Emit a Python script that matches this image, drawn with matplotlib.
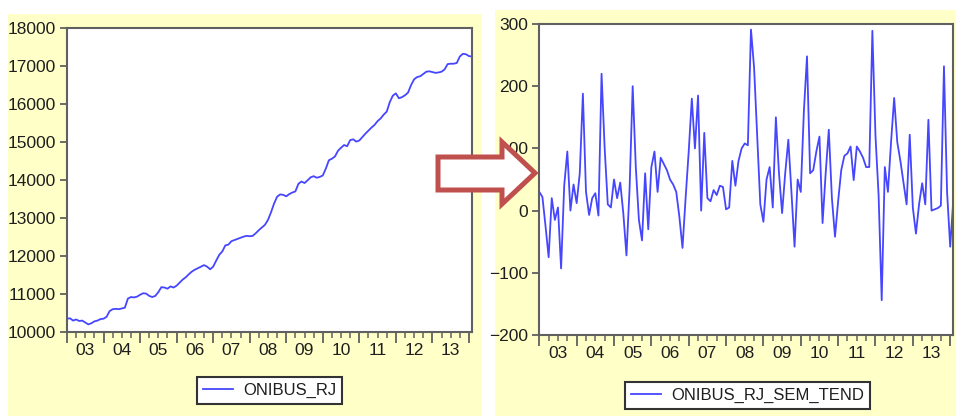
import numpy as np
import matplotlib
matplotlib.use('Agg')
import matplotlib.pyplot as plt
from matplotlib.patches import Rectangle, Polygon

# Monthly values, 2003M01 .. 2014M02
onibus_rj = [
    10350, 10360, 10300, 10330, 10290, 10300, 10250, 10200, 10230, 10280, 10300, 10340,  # 2003
    10350, 10400, 10550, 10600, 10610, 10600, 10620, 10640, 10880, 10920, 10910, 10930,  # 2004
    10980, 11020, 11010, 10950, 10920, 10950, 11050, 11180, 11170, 11140, 11200, 11170,  # 2005
    11220, 11300, 11380, 11440, 11520, 11590, 11640, 11680, 11720, 11760, 11720, 11650,  # 2006
    11720, 11880, 12030, 12120, 12280, 12300, 12390, 12420, 12450, 12480, 12510, 12530,  # 2007
    12520, 12530, 12600, 12680, 12750, 12820, 12950, 13150, 13380, 13560, 13620, 13610,  # 2008
    13570, 13630, 13670, 13700, 13900, 13960, 13920, 13990, 14070, 14100, 14060, 14080,  # 2009
    14120, 14300, 14520, 14560, 14620, 14770, 14850, 14920, 14890, 15050, 15070, 15010,  # 2010
    15040, 15130, 15220, 15300, 15380, 15450, 15550, 15620, 15720, 15800, 16050, 16220,  # 2011
    16280, 16150, 16180, 16230, 16300, 16500, 16650, 16710, 16730, 16790, 16850, 16860,  # 2012
    16840, 16820, 16830, 16850, 16910, 17050, 17060, 17060, 17080, 17250, 17320, 17310,  # 2013
    17260, 17250,  # 2014
]

onibus_rj_sem_tend = [
    30, 22, -25, -75, 20, -15, 5, -93, 40, 95, 0, 42,  # 2003
    12, 60, 188, 30, -7, 20, 28, -8, 220, 100, 10, 5,  # 2004
    50, 20, 45, -5, -72, 35, 200, 70, -15, -48, 60, -30,  # 2005
    70, 95, 30, 85, 75, 65, 50, 42, 30, -10, -60, 20,  # 2006
    95, 180, 100, 185, 0, 125, 20, 15, 33, 25, 40, 38,  # 2007
    2, 5, 80, 40, 80, 100, 108, 105, 291, 230, 120, 10,  # 2008
    -18, 50, 70, 5, 150, 60, -4, 60, 114, 30, -58, 50,  # 2009
    30, 160, 248, 60, 65, 95, 119, -20, 60, 130, 20, -42,  # 2010
    15, 65, 88, 92, 103, 49, 103, 95, 85, 70, 70, 289,  # 2011
    120, 25, -144, 70, 30, 110, 181, 110, 80, 45, 10, 122,  # 2012
    5, -37, 10, 44, 10, 146, 0, 2, 4, 8, 232, 30,  # 2013
    -58, 17,  # 2014
]

year_labels = ['03', '04', '05', '06', '07', '08', '09', '10', '11', '12', '13']

plt.rcParams['font.family'] = ['Liberation Sans', 'DejaVu Sans']

W, H = 956, 418
fig = plt.figure(figsize=(W / 100, H / 100), dpi=100)
fig.patch.set_facecolor('white')

line_color = '#4646FF'
spine_color = '#606060'
text_color = '#1E1E1E'
yellow = '#FFFFC8'


# pixel box (left, top, right, bottom) -> figure fractions
def px_box(x0, y0, x1, y1):
    return [x0 / W, 1 - y1 / H, (x1 - x0) / W, (y1 - y0) / H]


# yellow backgrounds of the two EViews graphs
for b in [px_box(8, 14, 482, 416), px_box(495, 10, 956, 416)]:
    fig.add_artist(Rectangle((b[0], b[1]), b[2], b[3], transform=fig.transFigure,
                             facecolor=yellow, edgecolor='none', zorder=-1))


def draw_panel(box, values, ylim, ystep, name, legend_xy):
    ax = fig.add_axes(box)
    months = np.arange(len(values))
    ax.plot(months, values, color=line_color, lw=1.3, label=name)
    ax.set_xlim(0, len(values) - 1)
    ax.set_ylim(ylim[0], ylim[1])
    ax.set_yticks(np.arange(ylim[0], ylim[1] + 1, ystep))

    # year marks and quarter marks, labels sit in the middle of each year
    ax.set_xticks(np.arange(0, len(values), 12))
    ax.set_xticks(np.arange(0, len(values), 3), minor=True)
    ax.tick_params(axis='x', which='major', length=8, width=1.3, color=spine_color,
                   labelbottom=False)
    ax.tick_params(axis='x', which='minor', length=4, width=1.1, color=spine_color)
    ax.tick_params(axis='y', length=5, width=1.3, color=spine_color, pad=3,
                   labelsize=12.5, labelcolor=text_color)

    sec = ax.secondary_xaxis('bottom')
    sec.set_xticks(np.arange(6, 12 * len(year_labels), 12), year_labels)
    sec.tick_params(length=0, pad=8, labelsize=12.5, labelcolor=text_color)
    sec.spines['bottom'].set_visible(False)

    for s in ax.spines.values():
        s.set_color(spine_color)
        s.set_linewidth(1.5)

    leg = ax.legend(loc='center', bbox_to_anchor=(legend_xy[0] / W, 1 - legend_xy[1] / H),
                    bbox_transform=fig.transFigure, fancybox=False, framealpha=1,
                    edgecolor='#333333', fontsize=12, handlelength=1.8,
                    borderpad=0.35, handletextpad=0.6)
    leg.get_frame().set_linewidth(1.5)
    for t in leg.get_texts():
        t.set_color(text_color)
    return ax


draw_panel(px_box(67, 28, 472, 332), onibus_rj, (10000, 18000), 1000,
           'ONIBUS_RJ', (269.5, 390.5))
draw_panel(px_box(539.3, 24, 953.3, 335), onibus_rj_sem_tend, (-200, 300), 100,
           'ONIBUS_RJ_SEM_TEND', (747.5, 395.5))

# the red outlined arrow between the two graphs
arrow_px = [(438, 157), (502, 157), (502, 142), (535, 173), (502, 204), (502, 190), (438, 190)]
arrow = Polygon([(x / W, 1 - y / H) for x, y in arrow_px], closed=True,
                transform=fig.transFigure, facecolor='white', edgecolor='#C0504D',
                lw=3.6, joinstyle='miter', zorder=5)
fig.add_artist(arrow)

fig.savefig('out.png', dpi=100)
